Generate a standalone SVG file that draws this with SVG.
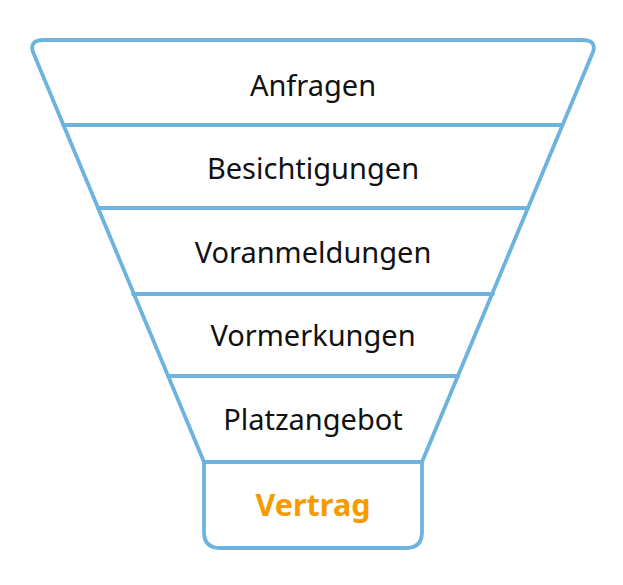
<svg xmlns="http://www.w3.org/2000/svg" width="623" height="585" viewBox="0 0 623 585">
<style>
.f{fill:none;stroke:#6cb4dd;stroke-width:3.8;stroke-linejoin:round;stroke-linecap:round}
.t{font-family:"Noto Sans","Open Sans",sans-serif;font-size:29px;fill:#111;text-anchor:middle}
.v{font-family:"Noto Sans","Open Sans",sans-serif;font-size:30.5px;font-weight:bold;fill:#f59b00;text-anchor:middle}
</style>
<rect width="623" height="585" fill="#fff"/>
<g id="funnel">
<path class="f" d="M44,40 L582,40 Q597,40 593,52 L422,462 L204,462 L33,52 Q29,40 44,40 Z"/>
</g>
<g id="connectors">
<line class="f" x1="63" y1="125" x2="561" y2="125"/>
<line class="f" x1="98" y1="208" x2="528" y2="208"/>
<line class="f" x1="133" y1="294" x2="493" y2="294"/>
<line class="f" x1="168" y1="376" x2="458" y2="376"/>
</g>
<g id="n1"><text class="t" x="313" y="96">Anfragen</text></g>
<g id="n2"><text class="t" x="313" y="179">Besichtigungen</text></g>
<g id="n3"><text class="t" x="313" y="263">Voranmeldungen</text></g>
<g id="n4"><text class="t" x="313" y="346">Vormerkungen</text></g>
<g id="n5"><text class="t" x="313" y="430">Platzangebot</text></g>
<g id="n6">
<path class="f" d="M204,462 L204,532 Q204,548 220,548 L406,548 Q422,548 422,532 L422,462"/>
<text class="v" x="313" y="516">Vertrag</text>
</g>
</svg>
